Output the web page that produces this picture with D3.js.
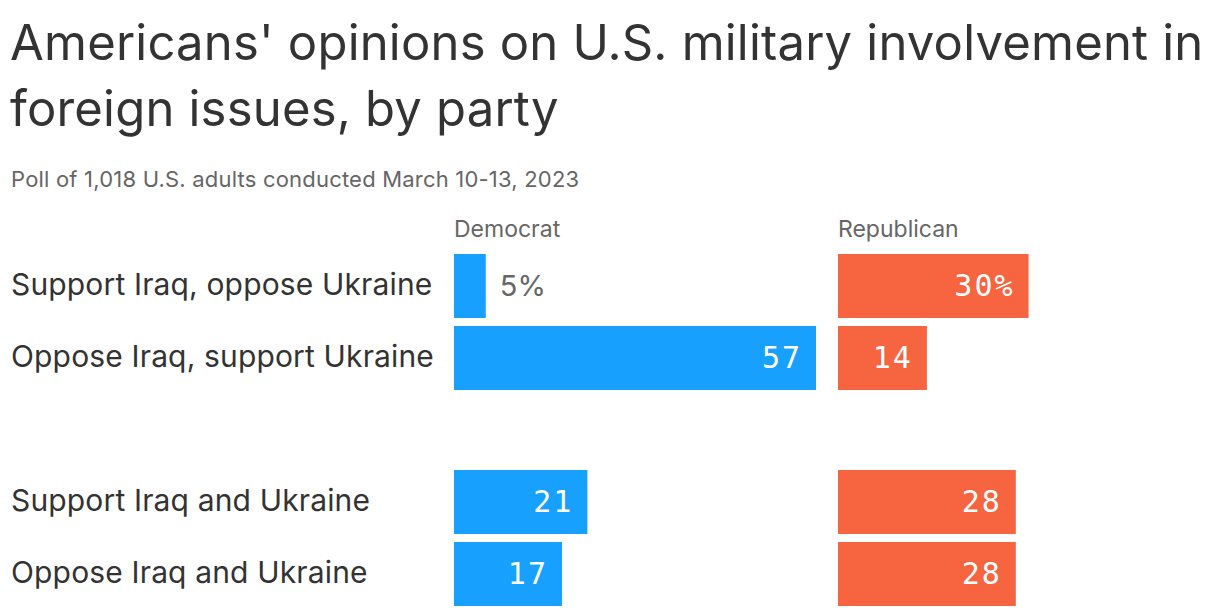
<!DOCTYPE html>
<html><head><meta charset="utf-8">
<script src="https://cdn.jsdelivr.net/npm/d3@7"></script>
<style>body{margin:0;background:#fff}</style>
</head><body>
<svg id="chart" width="1220" height="616"></svg>
<script>
const categories = ["Support Iraq, oppose Ukraine", "Oppose Iraq, support Ukraine", "", "Support Iraq and Ukraine", "Oppose Iraq and Ukraine"];
const parties = ["Democrat", "Republican"];
const democrat = [5, 57, null, 21, 17];
const republican = [30, 14, null, 28, 28];
const titleLines = ["Americans' opinions on U.S. military involvement in", "foreign issues, by party"];
const subtitle = "Poll of 1,018 U.S. adults conducted March 10-13, 2023";

const svg = d3.select("#chart");
const sans = "Inter, 'Noto Sans', sans-serif";
const mono = "'DejaVu Sans Mono', 'Liberation Mono', monospace";

svg.selectAll("text.title").data(titleLines).join("text")
  .attr("x", 10).attr("y", (d, i) => 60 + i * 66)
  .attr("font-family", sans).attr("font-size", 49).attr("fill", "#333")
  .attr("letter-spacing", 0.2)
  .text(d => d);
svg.append("text").attr("x", 11).attr("y", 187)
  .attr("font-family", sans).attr("font-size", 22).attr("fill", "#666")
  .attr("letter-spacing", 0.2)
  .text(subtitle);

const y = d3.scaleBand().domain(d3.range(categories.length)).range([254, 254 + 5 * 72 - 8]).paddingInner(8/72).paddingOuter(0);
const x = d3.scaleLinear().domain([0, 57]).range([0, 362]);
const colX = {Democrat: 454, Republican: 838};
const colors = {Democrat: "#18a0fe", Republican: "#f76540"};
const series = {Democrat: democrat, Republican: republican};

svg.selectAll("text.cat").data(categories).join("text")
  .attr("x", 11).attr("y", (d, i) => y(i) + y.bandwidth() / 2 + 9)
  .attr("font-family", sans).attr("font-size", 30).attr("fill", "#333")
  .attr("letter-spacing", 0.15)
  .text(d => d);

parties.forEach(p => {
  const g = svg.append("g").attr("transform", `translate(${colX[p]},0)`);
  g.append("text").attr("x", 0).attr("y", 237)
    .attr("font-family", sans).attr("font-size", 23).attr("fill", "#666").text(p);
  const data = series[p].map((v, i) => ({v, i})).filter(d => d.v != null);
  g.selectAll("rect").data(data).join("rect")
    .attr("x", 0).attr("y", d => y(d.i)).attr("width", d => x(d.v)).attr("height", y.bandwidth())
    .attr("fill", colors[p]);
  g.selectAll("text.val").data(data).join("text")
    .attr("class", "val")
    .each(function(d) {
      const label = d.v + (d.i === 0 ? "%" : "");
      const inside = x(d.v) > 60;
      d3.select(this)
        .attr("x", inside ? x(d.v) - 14 : x(d.v) + 14)
        .attr("y", y(d.i) + y.bandwidth() / 2 + 10)
        .attr("text-anchor", inside ? "end" : "start")
        .attr("font-family", inside ? mono : sans)
        .attr("font-size", inside ? 30 : 29)
        .attr("letter-spacing", inside ? 2 : 0)
        .attr("fill", inside ? "#fff" : "#666")
        .text(label);
    });
});
</script>
</body></html>
